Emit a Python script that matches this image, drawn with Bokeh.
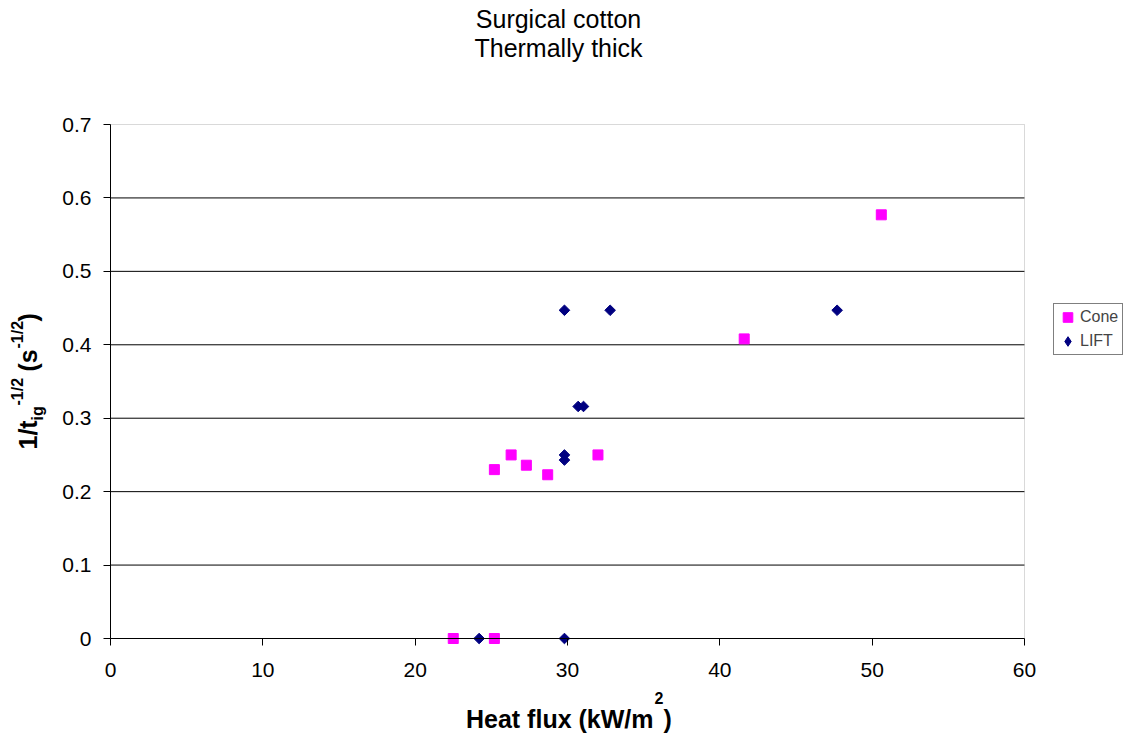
import math
from bokeh.plotting import figure
from bokeh.models import (Range1d, FixedTicker, NumeralTickFormatter, Label,
                          Legend, LegendItem, BoxAnnotation)
from bokeh.embed import file_html
from bokeh.resources import INLINE

# ---------------- data ----------------
cone_x = [22.5, 25.2, 25.2, 26.3, 27.3, 28.7, 32.0, 41.6, 50.6]
cone_y = [0.0, 0.0, 0.230, 0.250, 0.236, 0.223, 0.250, 0.408, 0.577]
lift_x = [24.2, 29.8, 29.8, 29.8, 29.8, 30.7, 31.05, 32.8, 47.7]
lift_y = [0.0, 0.0, 0.243, 0.250, 0.447, 0.316, 0.316, 0.447, 0.447]
x_ticks = [0, 10, 20, 30, 40, 50, 60]
y_ticks = [0, 0.1, 0.2, 0.3, 0.4, 0.5, 0.6, 0.7]
title_lines = ["Surgical cotton", "Thermally thick"]
series_names = ["Cone", "LIFT"]

FONT = "Liberation Sans"
W, H = 1123, 741
# plot area in canvas pixels
FL, FR, FT, FB = 110, 1024, 124, 638
X0, X1 = x_ticks[0], x_ticks[-1]
Y0, Y1 = y_ticks[0], y_ticks[-1]
CONE_COLOR = "#FF00FF"
LIFT_COLOR = "#000080"


def dx(px):
    return X0 + (px - FL) / (FR - FL) * (X1 - X0)


def dy(py):
    return Y0 + (FB - py) / (FB - FT) * (Y1 - Y0)


p = figure(width=W, height=H, output_backend="svg", toolbar_location=None,
           x_range=Range1d(dx(0), dx(W)), y_range=Range1d(dy(H), dy(0)),
           min_border=0, min_border_left=0, min_border_right=0,
           min_border_top=0, min_border_bottom=0)
p.title.visible = False
p.outline_line_color = None
p.background_fill_color = "white"
p.border_fill_color = "white"
p.grid.visible = False

# plot-area border
p.add_layout(BoxAnnotation(left=X0, right=X1, bottom=Y0, top=Y1,
                           fill_alpha=0, line_color="#808080", line_width=1,
                           level="underlay"))
# horizontal grid lines
grid_y = y_ticks[1:-1]
p.segment(x0=[X0] * len(grid_y), x1=[X1] * len(grid_y), y0=grid_y, y1=grid_y,
          line_color="black", line_width=1, level="underlay")

p.xaxis.ticker = FixedTicker(ticks=x_ticks)
p.yaxis.ticker = FixedTicker(ticks=y_ticks)
p.yaxis.formatter = NumeralTickFormatter(format="0.[0]")
p.xaxis.fixed_location = Y0
p.yaxis.fixed_location = X0
p.xaxis.bounds = (X0, X1)
p.yaxis.bounds = (Y0, Y1)
for ax in (p.xaxis[0], p.yaxis[0]):
    ax.axis_line_color = "black"
    ax.major_tick_line_color = "black"
    ax.major_tick_out = 7
    ax.major_tick_in = 0
    ax.minor_tick_out = 0
    ax.minor_tick_in = 0
    ax.major_label_text_font = FONT
    ax.major_label_text_font_size = "21px"
    ax.major_label_text_color = "black"
p.yaxis.major_label_standoff = 12
p.xaxis.major_label_standoff = 17

r_cone = p.scatter(cone_x, cone_y, marker="square", size=10,
                   fill_color=CONE_COLOR, line_color=CONE_COLOR)
r_lift = p.scatter(lift_x, lift_y, marker="square", size=7.5, angle=math.pi / 4,
                   fill_color=LIFT_COLOR, line_color=LIFT_COLOR)
# hidden twin of the LIFT series, only used to give the legend a diamond swatch
r_lift_key = p.scatter(lift_x, lift_y, marker="diamond", size=10,
                       fill_color=LIFT_COLOR, line_color=LIFT_COLOR,
                       visible=False)

legend = Legend(items=[LegendItem(label=series_names[0], renderers=[r_cone]),
                       LegendItem(label=series_names[1], renderers=[r_lift_key])],
                location=(1053, H - 355))
legend.border_line_color = "black"
legend.border_line_width = 1
legend.label_text_font = FONT
legend.label_text_font_size = "16px"
legend.padding = 1
legend.spacing = 0
legend.glyph_width = 25
legend.glyph_height = 24
legend.label_height = 24
legend.label_width = 41
legend.label_standoff = 0
legend.margin = 0
legend.background_fill_color = "white"
legend.background_fill_alpha = 1
legend.inactive_fill_alpha = 0
p.add_layout(legend)

K = 0.38  # baseline correction (fraction of font size)


def lab(text, px, py, size, bold=False, align="left", rotated=False):
    if rotated:
        px = px - K * size
    else:
        py = py - K * size
    p.add_layout(Label(x=dx(px), y=dy(py), text=text, text_font=FONT,
                       text_font_size=f"{size}px",
                       text_font_style="bold" if bold else "normal",
                       text_align=align, text_baseline="alphabetic",
                       angle=math.pi / 2 if rotated else 0.0,
                       text_color="black"))


# title
lab(title_lines[0], 558, 28, 25, align="center")
lab(title_lines[1], 558, 57, 25, align="center")

# x axis label
lab("Heat flux (kW/m", 653, 728, 25, bold=True, align="right")
lab("2", 654, 704, 16, bold=True)
lab(")", 663, 728, 25, bold=True)

# y axis label (rotated, reading bottom to top)
lab("1/t", 37, 449, 25, bold=True, rotated=True)
lab("ig", 43, 420, 16, bold=True, rotated=True)
lab("-1/2", 23, 405, 16, bold=True, rotated=True)
lab("(s", 37, 371, 25, bold=True, rotated=True)
lab("-1/2", 23, 348, 16, bold=True, rotated=True)
lab(")", 37, 321, 25, bold=True, rotated=True)

open("out.html", "w").write(file_html(p, INLINE))
